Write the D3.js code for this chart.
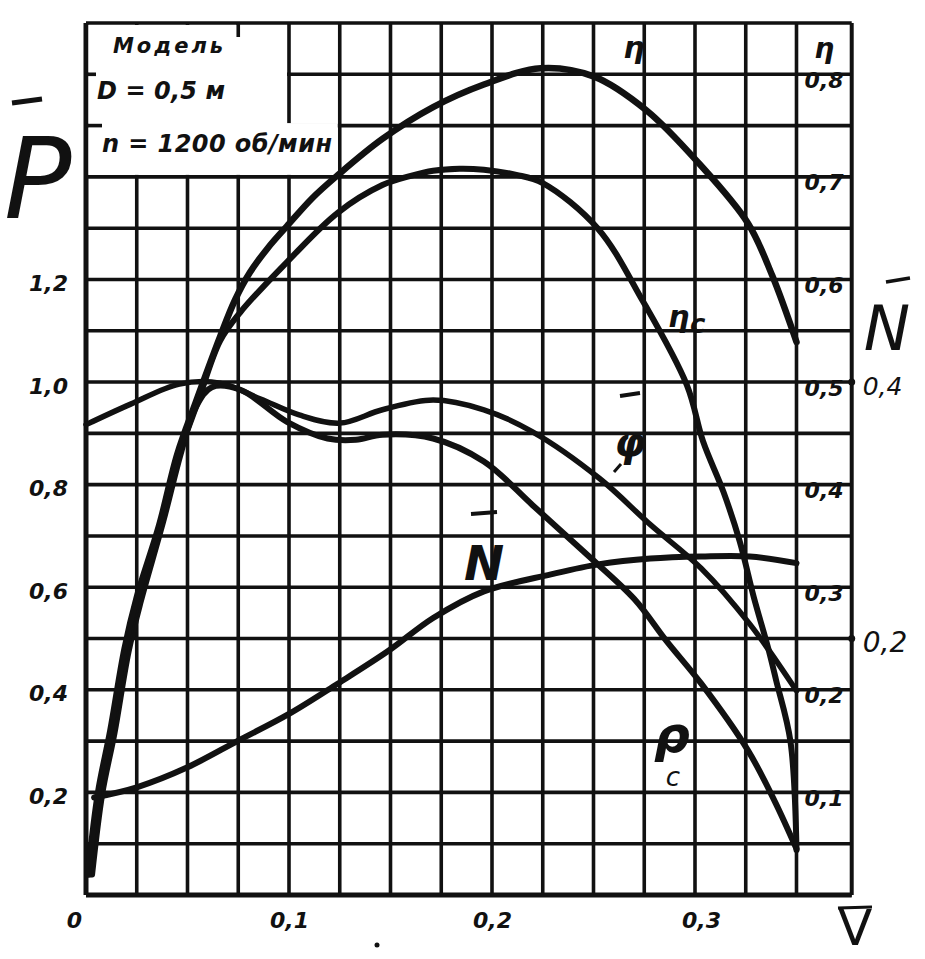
<!DOCTYPE html>
<html><head><meta charset="utf-8">
<script src="https://cdn.jsdelivr.net/npm/d3@7"></script>
<style>
html,body{margin:0;padding:0;background:#fff;}
text{font-family:"DejaVu Sans","Liberation Sans",sans-serif;fill:#111;}
</style></head>
<body>
<script>
// ---- data ----
const xTicks = [0, 0.1, 0.2, 0.3];
const pTicks = [0.2, 0.4, 0.6, 0.8, 1.0, 1.2];
const etaTicks = [0.1, 0.2, 0.3, 0.4, 0.5, 0.6, 0.7, 0.8];
const nTicks = [0.2, 0.4];

// η (top curve), in η units
const etaV   = [0.001,0.006,0.012,0.019,0.025,0.036,0.045,0.054,0.066,0.0734,0.0808,0.0897,0.099,0.1113,0.1236,0.146,0.171,0.196,0.224,0.250,0.276,0.302,0.326,0.338,0.350];
const etaVal = [0.02, 0.10, 0.16, 0.24, 0.29, 0.36, 0.43, 0.48, 0.544,0.580, 0.607, 0.631, 0.652,0.679, 0.701, 0.737,0.768,0.790,0.806,0.798,0.765,0.713,0.655,0.604,0.539];

// η_c (second curve), in η units
const etaCV   = [0.002,0.007,0.013,0.020,0.026,0.037,0.046,0.055,0.066,0.076,0.099,0.124,0.146,0.160,0.171,0.184,0.196,0.212,0.225,0.252,0.274,0.296,0.304,0.314,0.322,0.329,0.336,0.340,0.347,0.350];
const etaCVal = [0.02, 0.10, 0.16, 0.24, 0.29, 0.36, 0.43, 0.48, 0.54, 0.568,0.617,0.665,0.692,0.701,0.706,0.708,0.707,0.702,0.694,0.650,0.580,0.497,0.442,0.393,0.345,0.290,0.241,0.209,0.150,0.044];

// φ̄ (upper wavy curve), in P̄ units
const phiV   = [0.000,0.022,0.046,0.066,0.086,0.105,0.125,0.146,0.171,0.196,0.220,0.253,0.278,0.303,0.327,0.350];
const phiVal = [0.917,0.957,0.996,0.998,0.967,0.936,0.920,0.946,0.965,0.946,0.903,0.812,0.722,0.637,0.528,0.398];

// N̄ (lower wavy curve), in N̄ units
const nV   = [0.003,0.008,0.014,0.021,0.027,0.038,0.047,0.054,0.062,0.076,0.099,0.119,0.133,0.146,0.171,0.196,0.220,0.245,0.270,0.286,0.303,0.326,0.339,0.350];
const nVal = [0.016,0.079,0.126,0.190,0.229,0.291,0.346,0.380,0.396,0.394,0.369,0.356,0.355,0.359,0.356,0.338,0.304,0.268,0.231,0.198,0.165,0.113,0.074,0.036];

// ρ_c (rising curve), in P̄ units
const pcV   = [0.004,0.025,0.050,0.075,0.100,0.124,0.149,0.171,0.196,0.229,0.253,0.278,0.303,0.327,0.350];
const pcVal = [0.19, 0.21, 0.249,0.301,0.353,0.412,0.476,0.54, 0.592,0.625,0.645,0.656,0.660,0.660,0.647];

// ---- drawing ----
const W = 925, H = 959;
const svg = d3.select("body").append("svg").attr("width", W).attr("height", H)
  .style("display","block");
svg.append("rect").attr("width", W).attr("height", H).attr("fill", "#fff");

const x = d3.scaleLinear().domain([0, 0.35]).range([86, 86 + 0.35 * 2030]);
const y = d3.scaleLinear().domain([0, 1.7]).range([895, 23]);
const yEta = d3.scaleLinear().domain([0, 0.85]).range([895, 23]);
const yN = d3.scaleLinear().domain([0, 0.68]).range([895, 23]);
const xFrame = x(0.3772);

const ink = "#111";
const grid = svg.append("g");
const vLines = d3.range(0, 0.3501, 0.025);
const hLines = d3.range(0, 1.7001, 0.1);
grid.selectAll("line.v").data(vLines).join("line")
  .attr("x1", d => x(d)).attr("x2", d => x(d))
  .attr("y1", y(0)).attr("y2", y(1.7))
  .attr("stroke", ink).attr("stroke-width", 3.6);
grid.selectAll("line.h").data(hLines).join("line")
  .attr("x1", x(0)).attr("x2", xFrame)
  .attr("y1", d => y(d)).attr("y2", d => y(d))
  .attr("stroke", ink).attr("stroke-width", 3.6);
grid.append("line").attr("x1", xFrame).attr("x2", xFrame).attr("y1", y(0)).attr("y2", y(1.7))
  .attr("stroke", ink).attr("stroke-width", 4);
grid.append("line").attr("x1", x(0)).attr("x2", xFrame).attr("y1", y(0)).attr("y2", y(0))
  .attr("stroke", ink).attr("stroke-width", 5);
grid.append("line").attr("x1", x(0)).attr("x2", x(0)).attr("y1", y(0)).attr("y2", y(1.7))
  .attr("stroke", ink).attr("stroke-width", 5);

// legend box (blank grid area)
svg.append("rect").attr("x", x(0) + 2.5).attr("y", y(1.7) + 2)
  .attr("width", x(0.1) - x(0) - 4.5).attr("height", y(1.4) - y(1.7) - 4).attr("fill", "#fff");
svg.append("rect").attr("x", x(0.1) - 3).attr("y", y(1.5) - 2.5)
  .attr("width", x(0.125) - x(0.1) + 1).attr("height", y(1.4) - y(1.5) + 0.5).attr("fill", "#fff");
[[x(0), y(1.6), x(0) + 10, y(1.6)], [x(0), y(1.5), x(0) + 16, y(1.5)], [x(0.075), y(1.7), x(0.075), y(1.7) + 14]]
  .forEach(s => svg.append("line").attr("x1", s[0]).attr("y1", s[1]).attr("x2", s[2]).attr("y2", s[3])
    .attr("stroke", ink).attr("stroke-width", 3.6));

const lg = svg.append("g").attr("font-weight", "bold").attr("font-style", "italic");
lg.append("text").attr("x", 113).attr("y", 53).attr("font-size", 21).attr("textLength", 110).text("Модель");
lg.append("text").attr("x", 97).attr("y", 99).attr("font-size", 24).attr("textLength", 128).text("D = 0,5 м");
lg.append("text").attr("x", 102).attr("y", 152).attr("font-size", 24).attr("textLength", 230).text("n = 1200 об/мин");

// curves
const mk = (xs, vs, ys) => d3.line().x((d, i) => x(xs[i])).y((d, i) => ys(vs[i]))
  .curve(d3.curveCatmullRom.alpha(0.5))(xs);
const curves = svg.append("g").attr("fill", "none").attr("stroke", ink)
  .attr("stroke-linecap", "round").attr("stroke-linejoin", "round");
curves.append("path").attr("d", mk(pcV, pcVal, y)).attr("stroke-width", 6);
curves.append("path").attr("d", mk(nV, nVal, yN)).attr("stroke-width", 6);
curves.append("path").attr("d", mk(phiV, phiVal, y)).attr("stroke-width", 5.5);
curves.append("path").attr("d", mk(etaCV, etaCVal, yEta)).attr("stroke-width", 6);
curves.append("path").attr("d", mk(etaV, etaVal, yEta)).attr("stroke-width", 6.5);

const fmt = d => d3.format(".1f")(d).replace(".", ",");
const styleAxis = g => { g.select(".domain").remove(); g.selectAll("line").remove();
  g.selectAll("text").attr("font-family", "DejaVu Sans").attr("font-weight", "bold")
   .attr("font-style", "italic").attr("fill", ink); };

// left P̄ axis
svg.append("g").attr("transform", "translate(68,4)")
  .call(d3.axisLeft(y).tickValues(pTicks).tickFormat(fmt).tickSize(0).tickPadding(0))
  .call(styleAxis).selectAll("text").attr("font-size", 22);

// bottom V̄ axis
const bx = svg.append("g").attr("transform", "translate(0,912)")
  .call(d3.axisBottom(x).tickValues(xTicks).tickFormat(d => d === 0 ? "0" : fmt(d)).tickSize(0).tickPadding(0))
  .call(styleAxis);
bx.selectAll("text").attr("font-size", 22).attr("dx", d => d === 0 ? -12 : (d === 0.3 ? 6 : 0));

// right η scale (inside last column)
const re = svg.append("g").attr("transform", `translate(${(x(0.35) + xFrame) / 2},6)`)
  .call(d3.axisRight(yEta).tickValues(etaTicks).tickFormat(fmt).tickSize(0).tickPadding(0))
  .call(styleAxis);
re.selectAll("text").attr("text-anchor", "middle").attr("font-size", 22);
svg.append("text").attr("x", (x(0.35) + xFrame) / 2).attr("y", 58).attr("text-anchor", "middle")
  .attr("font-size", 28).attr("font-style", "italic").attr("font-weight", "bold").text("η");

// right N̄ scale (outside)
const rn = svg.append("g").attr("transform", `translate(${xFrame + 11},4)`)
  .call(d3.axisRight(yN).tickValues(nTicks).tickFormat(fmt).tickSize(0).tickPadding(0))
  .call(styleAxis);
rn.selectAll("text").attr("font-weight", "normal").attr("font-size", d => d === 0.2 ? 28 : 25);
svg.selectAll("circle.nt").data(nTicks).join("circle").attr("cx", xFrame).attr("cy", d => yN(d)).attr("r", 3.5).attr("fill", ink);

// axis titles
svg.append("text").attr("x", 4).attr("y", 218).attr("font-family", "Liberation Sans")
  .attr("font-size", 112).attr("font-style", "italic").attr("font-weight", "normal").text("P");
svg.append("line").attr("x1", 12).attr("x2", 42).attr("y1", 103).attr("y2", 99).attr("stroke", ink).attr("stroke-width", 5);

svg.append("text").attr("x", 855).attr("y", 945).attr("text-anchor", "middle").attr("font-family", "Liberation Serif")
  .attr("font-size", 50).text("V");
svg.append("line").attr("x1", 838).attr("x2", 872).attr("y1", 908).attr("y2", 907).attr("stroke", ink).attr("stroke-width", 3);

svg.append("text").attr("x", 887).attr("y", 350).attr("text-anchor", "middle").attr("font-family", "Liberation Serif")
  .attr("font-size", 62).attr("font-style", "italic").text("N");
svg.append("line").attr("x1", 886).attr("x2", 910).attr("y1", 282).attr("y2", 278).attr("stroke", ink).attr("stroke-width", 3.5);

// curve labels
const cl = svg.append("g").attr("font-weight", "bold").attr("font-style", "italic");
cl.append("text").attr("x", 634).attr("y", 58).attr("text-anchor", "middle").attr("font-size", 30).text("η");
cl.append("text").attr("x", 668).attr("y", 327).attr("font-size", 30).text("η");
cl.append("text").attr("x", 690).attr("y", 333).attr("font-size", 26).text("c");
cl.append("text").attr("x", 630).attr("y", 456).attr("text-anchor", "middle").attr("font-size", 40).text("φ");
svg.append("line").attr("x1", 620).attr("x2", 640).attr("y1", 396).attr("y2", 393).attr("stroke", ink).attr("stroke-width", 4);
svg.append("line").attr("x1", 614).attr("x2", 621).attr("y1", 472).attr("y2", 464).attr("stroke", ink).attr("stroke-width", 3);
cl.append("text").attr("x", 484).attr("y", 580).attr("text-anchor", "middle").attr("font-size", 48).text("N");
svg.append("line").attr("x1", 471).attr("x2", 497).attr("y1", 514).attr("y2", 512).attr("stroke", ink).attr("stroke-width", 4);
cl.append("text").attr("x", 672).attr("y", 752).attr("text-anchor", "middle").attr("font-size", 50).text("ρ");
cl.append("text").attr("x", 673).attr("y", 786).attr("text-anchor", "middle").attr("font-size", 26).attr("font-weight", "normal").text("c");

svg.append("circle").attr("cx", 377).attr("cy", 945).attr("r", 2.5).attr("fill", ink);
</script>
</body></html>
